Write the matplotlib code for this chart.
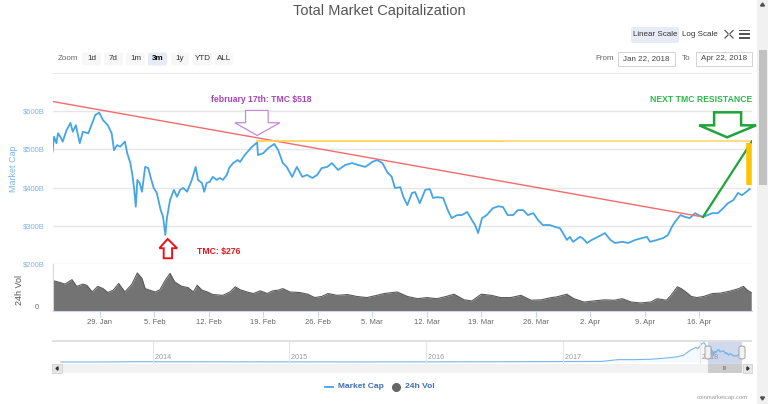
import datetime as dt
import matplotlib
matplotlib.use('Agg')
import matplotlib.pyplot as plt
import matplotlib.dates as mdates
import matplotlib.transforms as mtransforms
from matplotlib.patches import Polygon, Rectangle, FancyBboxPatch
import numpy as np

W, H = 768, 404
START = dt.datetime(2018, 1, 22)

# ---------------- data ----------------
# total market cap, days since Jan 22 2018 -> billions USD
cap_days = [0.9, 1.1, 1.4, 1.6, 1.9, 2.2, 2.7, 3.2, 3.5, 3.9, 4.4, 4.8, 5.5, 5.9, 6.4, 6.9,
            7.4, 8.0, 8.5, 8.8, 9.2, 9.6, 10.2, 10.5, 10.9, 11.2, 11.4, 11.6, 11.8, 12.1,
            12.4, 12.8, 13.2, 13.6, 13.9, 14.3, 14.8, 15.1, 15.4, 15.6, 16.0, 16.5, 16.9,
            17.3, 17.7, 18.2, 18.8, 19.3, 19.6, 20.1, 20.4, 20.7, 21.1, 21.5, 22.0, 22.4,
            22.8, 23.3, 23.6, 24.1, 24.7, 25.0, 25.6, 26.5, 27.2, 27.3, 28.0, 28.6, 29.4,
            29.9, 30.5, 31.0, 31.7, 32.3, 33.0, 33.6, 34.3, 34.9, 35.5, 36.2, 36.8, 37.6,
            38.5, 39.4, 40.2, 41.1, 42.0, 42.6, 43.3, 43.9, 44.5, 44.9, 45.6, 46.0, 46.5,
            47.1, 47.5, 48.1, 48.8, 49.4, 49.8, 50.4, 51.1, 51.7, 52.2, 52.9, 53.5, 54.2,
            54.8, 55.2, 55.6, 56.1, 56.7, 57.5, 58.2, 58.8, 59.4, 60.1, 60.7, 61.4, 62.0,
            62.7, 63.3, 63.9, 64.8, 65.5, 66.1, 66.5, 67.0, 67.4, 67.8, 68.7, 69.0, 69.6,
            70.2, 71.0, 71.9, 72.6, 73.2, 74.1, 74.9, 75.8, 76.7, 77.3, 77.7, 78.6, 79.4,
            80.0, 80.5, 80.9, 81.6, 82.2, 82.8, 83.5, 83.9, 84.5, 85.1, 85.7, 86.4, 87.1,
            87.7, 88.4, 89.0, 89.5, 89.9, 90.5]
cap_values = [494, 533, 516, 542, 533, 520, 550, 569, 546, 563, 516, 546, 542, 563, 590, 596,
              576, 563, 542, 498, 511, 507, 520, 490, 464, 428, 394, 350, 420, 412,
              389, 454, 451, 420, 399, 386, 341, 324, 276, 320, 367, 394, 376,
              394, 399, 389, 420, 454, 420, 412, 389, 412, 415, 428, 420, 425,
              420, 433, 451, 464, 472, 467, 485, 506, 518, 485, 490, 503, 514,
              498, 464, 454, 428, 454, 428, 433, 425, 433, 451, 454, 464, 446,
              459, 464, 459, 454, 467, 472, 464, 441, 428, 399, 401, 375, 354,
              386, 388, 359, 394, 396, 373, 375, 373, 341, 320, 328, 328, 336,
              315, 302, 281, 320, 328, 346, 351, 349, 328, 328, 341, 341, 328,
              333, 315, 302, 302, 297, 294, 281, 263, 271, 258, 271, 268, 255,
              263, 271, 281, 263, 255, 258, 255, 263, 268, 271, 258, 263, 268,
              276, 297, 310, 328, 323, 320, 333, 328, 323, 328, 333, 333, 346,
              359, 367, 386, 380, 386, 396]

# 24h volume, days since Jan 22 2018 -> billions USD
vol_days = [1.0, 1.6, 2.5, 3.4, 4.0, 4.8, 5.3, 6.0, 6.7, 7.4, 8.0, 8.7, 9.4, 10.2, 11.1,
            11.8, 12.4, 12.8, 13.4, 14.1, 14.7, 15.4, 16.0, 16.6, 17.5, 18.3, 19.0, 19.5,
            20.1, 20.8, 21.5, 22.8, 23.7, 24.4, 25.0, 25.9, 26.7, 27.6, 28.5, 29.2, 29.9,
            30.5, 31.4, 32.7, 33.7, 34.6, 35.5, 36.3, 37.5, 38.8, 40.0, 41.3, 42.6, 43.5,
            45.2, 46.5, 47.8, 49.0, 50.3, 51.5, 52.5, 53.8, 54.8, 56.0, 57.3, 58.5, 59.8,
            61.1, 62.4, 63.7, 65.0, 65.7, 67.0, 67.9, 69.2, 70.5, 71.8, 73.1, 74.1, 75.3,
            76.5, 77.8, 78.6, 79.8, 80.4, 81.2, 81.7, 82.3, 83.0, 83.7, 84.6, 85.7, 86.8,
            88.1, 89.1, 89.7, 90.2, 90.7]
vol_values = [27, 26, 24, 28, 22, 24, 23, 17, 22, 20, 16.5, 18.6, 24.6, 17, 24,
              34, 29, 20, 18.6, 17, 19, 27.6, 33.6, 26, 22, 21, 17, 23,
              18.6, 17, 14.7, 14, 17, 21.6, 19, 17, 15.6, 18, 15.6, 18, 18.6,
              20, 17, 16.5, 15, 12, 13, 15.6, 14, 14.7, 13, 12, 14, 15.6,
              17, 13, 11, 12, 11, 13, 15, 10, 9, 15, 14, 12, 12,
              14, 9.6, 10, 12, 12.6, 15, 11, 8, 9, 10, 9.6, 11, 8,
              7.2, 8, 11, 9.6, 14, 21.6, 20, 17, 13, 12, 13, 15.6, 16,
              18, 20, 22, 18.6, 16.5]

# navigator: long-range market cap (decimal year -> billions USD) before the zoom window
nav_years = [2013.33, 2013.6, 2013.85, 2013.93, 2014.1, 2014.5, 2015.0, 2015.5, 2016.0,
             2016.5, 2017.0, 2017.15, 2017.28, 2017.40, 2017.52, 2017.64, 2017.76,
             2017.83, 2017.88, 2017.93, 2017.97, 2017.985, 2018.017, 2018.03, 2018.05]
nav_values = [1.5, 1.5, 10, 14, 10, 7, 5, 4, 7, 10, 18, 20, 25, 100, 100, 115, 172,
              215, 286, 500, 615, 570, 787, 815, 615]

week_ticks = ['29. Jan', '5. Feb', '12. Feb', '19. Feb', '26. Feb', '5. Mar', '12. Mar',
              '19. Mar', '26. Mar', '2. Apr', '9. Apr', '16. Apr']
cap_ticks = [200, 300, 400, 500, 600]
year_labels = ['2014', '2015', '2016', '2017', '2018']

peak_day, peak_value = 27.2, 518
low_day, low_value = 15.4, 276
resistance = 521
break_day, break_value = 84.5, 323
trend_start_day, trend_start_value = 0.96, 625
end_day = 90.8
bar_day, bar_top, bar_bottom = 90.4, 516, 406
green_arrow_day = 87.6

# ---------------- helpers ----------------
plt.rcParams['font.family'] = ['Liberation Sans Narrow', 'Liberation Sans', 'DejaVu Sans']

fig = plt.figure(figsize=(W / 100, H / 100), dpi=100)
fig.patch.set_facecolor('white')


def fx(x):
    return x / W


def fy(y):
    return 1 - y / H


def ax_rect(x0, y0, x1, y1):
    return [fx(x0), fy(y1), (x1 - x0) / W, (y1 - y0) / H]


def frect(x0, y0, x1, y1, **kw):
    r = Rectangle((fx(x0), fy(y1)), (x1 - x0) / W, (y1 - y0) / H,
                  transform=fig.transFigure, **kw)
    fig.add_artist(r)
    return r


def fbox(x0, y0, x1, y1, **kw):
    r = FancyBboxPatch((fx(x0), fy(y1)), (x1 - x0) / W, (y1 - y0) / H,
                       boxstyle='round,pad=0,rounding_size=0.004',
                       transform=fig.transFigure, **kw)
    fig.add_artist(r)
    return r


def ftext(x, y, s, **kw):
    return fig.text(fx(x), fy(y), s, **kw)


def d2n(d):
    return mdates.date2num(START + dt.timedelta(days=d))


cap_x = [d2n(d) for d in cap_days]
vol_x = [d2n(d) for d in vol_days]

BLUE = '#45a5e5'
GRID = '#e6e6e6'

# ---------------- main axes ----------------
ax = fig.add_axes(ax_rect(53, 92, 752, 264))
ax.plot(cap_x, cap_values, color=BLUE, lw=1.3, zorder=3)
ax.set_xlim(d2n(0.96), d2n(end_day))
ax.set_ylim(200, 650)
ax.set_yticks(cap_ticks)
ax.set_yticklabels([f'${v}B' for v in cap_ticks])
ax.tick_params(axis='y', length=0, labelsize=5.5, labelcolor='#7cb5ec', pad=6)
ax.tick_params(axis='x', length=0, labelbottom=False)
ax.grid(axis='y', color=GRID, lw=1)
for s in ax.spines.values():
    s.set_visible(False)
ax.set_ylabel('Market Cap', color='#7cb5ec', fontsize=6.5)
ax.yaxis.set_label_coords((18 - 53) / 699, (264 - 169) / 172)

# trend line (red)
ax.plot([d2n(trend_start_day), d2n(break_day)],
        [trend_start_value, break_value], color='#f26b6b', lw=1, zorder=4)
# resistance (yellow)
ax.plot([d2n(peak_day), d2n(59)], [resistance, resistance], color='#ffd24a', lw=1.2, zorder=4)
ax.plot([d2n(59), d2n(end_day)], [resistance, resistance], color='#ffe08a', lw=1.6, zorder=4)
# green breakout line
ax.plot([d2n(break_day), d2n(end_day)], [break_value, resistance], color='#1fa33a', lw=1.6, zorder=5)
# yellow bar
ax.plot([d2n(bar_day), d2n(bar_day)], [bar_top, bar_bottom], color='#ffc400', lw=4,
        solid_capstyle='butt', zorder=5)


def arrow(xd, yd, verts, color, lw, dy=0):
    tr = fig.dpi_scale_trans + mtransforms.ScaledTranslation(xd, yd, ax.transData)
    v = [(a / 100, (b + dy) / 100) for a, b in verts]
    p = Polygon(v, closed=True, transform=tr, facecolor='white', edgecolor=color,
                lw=lw, zorder=6, clip_on=False)
    ax.add_patch(p)


down_arrow_p = [(0, 0), (22.7, 12.7), (11, 12.7), (11, 25), (-11.6, 25), (-11.6, 12.7), (-22.3, 12.7)]
arrow(d2n(peak_day), peak_value, down_arrow_p, '#c48ad6', 0.9, dy=7)
up_arrow_p = [(0, 0), (9.4, -9.3), (4.4, -9.3), (4.4, -19.3), (-4, -19.3), (-4, -9.3), (-8.3, -9.3)]
arrow(d2n(low_day + 0.3), low_value, up_arrow_p, '#e8141a', 1.4, dy=-4)
green_p = [(0, 0), (29, 12), (14, 12), (14, 25), (-13, 25), (-13, 12), (-28, 12)]
arrow(d2n(green_arrow_day), resistance, green_p, '#1fa33a', 1.8, dy=4)

ftext(261, 100, 'february 17th: TMC $518', color='#a845b8', fontsize=6.2,
      fontweight='bold', ha='center', va='center')
ftext(197, 251.5, 'TMC: $276', color='#e8141a', fontsize=6.2, fontweight='bold',
      ha='left', va='center')
ftext(752, 99, 'NEXT TMC RESISTANCE', color='#2db84a', fontsize=6.2, fontweight='bold',
      ha='right', va='center')

# ---------------- volume axes ----------------
axv = fig.add_axes(ax_rect(53, 264, 752, 311))
axv.fill_between(vol_x, vol_values, 0, color='#737373', lw=0)
axv.plot(vol_x, vol_values, color='#5a5a5a', lw=0.8)
axv.set_xlim(ax.get_xlim())
axv.set_ylim(0, 42)
axv.set_yticks([0])
axv.set_yticklabels(['0'], va='bottom')
axv.tick_params(axis='y', length=0, labelsize=5.5, labelcolor='#666666', pad=10)
for k in ['top', 'right']:
    axv.spines[k].set_visible(False)
axv.spines['left'].set_color('#ccd6eb')
axv.spines['bottom'].set_color('#ccd6eb')
axv.set_ylabel('24h Vol', color='#555555', fontsize=6.5)
axv.yaxis.set_label_coords((24 - 53) / 699, (311 - 290) / 47)
tick_dates = [START + dt.timedelta(days=7 * (i + 1)) for i in range(len(week_ticks))]
axv.set_xticks([mdates.date2num(t) for t in tick_dates])
axv.set_xticklabels(week_ticks)
axv.tick_params(axis='x', length=4, color='#ccd6eb', labelsize=5.5, labelcolor='#666666', pad=2)

# ---------------- navigator ----------------
axn = fig.add_axes(ax_rect(52, 341, 752, 364))
win_years = [2018 + (21 + d) / 365 for d in cap_days]
ny = nav_years + win_years
nv = nav_values + cap_values
axn.plot(ny, nv, color='#7cb5ec', lw=0.8)
axn.fill_between(ny, nv, 0, color='#7cb5ec', alpha=0.08, lw=0)
axn.set_xlim(2013.265, 2018.38)
axn.set_ylim(-84, 885)
axn.set_xticks([])
axn.set_yticks([])
for s in axn.spines.values():
    s.set_visible(False)
for i, lab in enumerate(year_labels):
    yr = 2014 + i
    axn.axvline(yr, color=GRID, lw=0.8)
    axn.text(yr, 0.12, ' ' + lab, transform=axn.get_xaxis_transform(), fontsize=5.2,
             color='#999999', ha='left', va='bottom')
w0, w1 = 2018 + 21 / 365, 2018 + 111 / 365
axn.axvspan(w0, w1, color=(102 / 255, 133 / 255, 194 / 255), alpha=0.3, lw=0)
frect(52, 340, 752, 341.5, facecolor='#e0e0e0', lw=0)
# handles
for xh in [708, 742]:
    fbox(xh - 3, 346, xh + 3, 359, facecolor='#f2f2f2', edgecolor='#999999', lw=0.6)
# scrollbar
frect(52, 364, 752, 373, facecolor='#f2f2f2', lw=0)
frect(52, 364, 62, 373, facecolor='#e6e6e6', edgecolor='#cccccc', lw=0.5)
frect(743, 364, 752, 373, facecolor='#e6e6e6', edgecolor='#cccccc', lw=0.5)
frect(708, 364, 742, 373, facecolor='#cccccc', lw=0)
ftext(725, 368.5, 'III', fontsize=3.5, color='#555555', ha='center', va='center')
fig.add_artist(Polygon([(fx(56), fy(368.5)), (fx(58), fy(366.8)), (fx(58), fy(370.2))],
                       transform=fig.transFigure, color='#333333'))
fig.add_artist(Polygon([(fx(749), fy(368.5)), (fx(747), fy(366.8)), (fx(747), fy(370.2))],
                       transform=fig.transFigure, color='#333333'))

# ---------------- chrome: title, buttons, legend ----------------
ftext(379, 11, 'Total Market Capitalization', fontsize=10.5, color='#555555',
      ha='center', va='center')
ftext(58, 59, 'Zoom', fontsize=5.8, color='#666666', ha='left', va='center')
buttons = [('1d', 82, 101), ('7d', 104, 123), ('1m', 126, 145), ('3m', 148, 167),
           ('1y', 171, 189), ('YTD', 193, 212), ('ALL', 215, 233)]
for lab, a, b in buttons:
    sel = lab == '3m'
    fbox(a, 52.5, b, 65.5, facecolor='#e6ebf5' if sel else '#f7f7f7', lw=0)
    ftext((a + b) / 2, 59, lab, fontsize=5.8, color='#000000' if sel else '#333333',
          fontweight='bold' if sel else 'normal', ha='center', va='center')
frect(53, 73, 752, 73.8, facecolor='#e6e6e6', lw=0)

fbox(631, 27, 679, 43, facecolor='#e6ebf5', lw=0)
ftext(655, 34.5, 'Linear Scale', fontsize=5.8, color='#333333', ha='center', va='center')
ftext(700, 34.5, 'Log Scale', fontsize=5.8, color='#333333', ha='center', va='center')
# fullscreen icon
for (cx, cy, sx, sy) in [(725, 30.5, 1, 1), (733, 30.5, -1, 1), (725, 38, 1, -1), (733, 38, -1, -1)]:
    fig.add_artist(plt.Line2D([fx(cx), fx(cx + 3 * sx)], [fy(cy), fy(cy + 3 * sy)],
                              transform=fig.transFigure, color='#555555', lw=0.9))
# hamburger
for yy in [30.5, 34.3, 38]:
    frect(739, yy - 0.8, 750, yy + 0.8, facecolor='#555555', lw=0)

ftext(605, 58.5, 'From', fontsize=5.8, color='#666666', ha='center', va='center')
frect(618, 52.5, 675, 65.5, facecolor='white', edgecolor='#cccccc', lw=0.6)
ftext(646.5, 59, 'Jan 22, 2018', fontsize=5.8, color='#444444', ha='center', va='center')
ftext(686.5, 58.5, 'To', fontsize=5.8, color='#666666', ha='center', va='center')
frect(696, 52.5, 752, 65.5, facecolor='white', edgecolor='#cccccc', lw=0.6)
ftext(724, 59, 'Apr 22, 2018', fontsize=5.8, color='#444444', ha='center', va='center')

# legend
fig.add_artist(plt.Line2D([fx(325), fx(333)], [fy(387), fy(387)], transform=fig.transFigure,
                          color=BLUE, lw=1.3))
ftext(338, 387, 'Market Cap', fontsize=6, color='#3d6fb6', fontweight='bold', ha='left', va='center')
fig.add_artist(plt.Line2D([fx(396)], [fy(387)], transform=fig.transFigure, marker='o',
                          markersize=5.5, color='#666666', lw=0))
ftext(405, 387, '24h Vol', fontsize=6, color='#3d6fb6', fontweight='bold', ha='left', va='center')
ftext(748, 398, 'coinmarketcap.com', fontsize=4.2, color='#999999', ha='right', va='center')

# browser scrollbar on the right
frect(757, 0, 768, 404, facecolor='#f1f1f1', lw=0)
frect(758.5, 50, 766.5, 185, facecolor='#c1c1c1', lw=0)
fig.add_artist(Polygon([(fx(762.5), fy(3)), (fx(760.5), fy(6)), (fx(764.5), fy(6))],
                       transform=fig.transFigure, color='#505050'))
fig.add_artist(Polygon([(fx(762.5), fy(400)), (fx(760.5), fy(397)), (fx(764.5), fy(397))],
                       transform=fig.transFigure, color='#505050'))

fig.savefig('out.png', dpi=100, facecolor='white')
